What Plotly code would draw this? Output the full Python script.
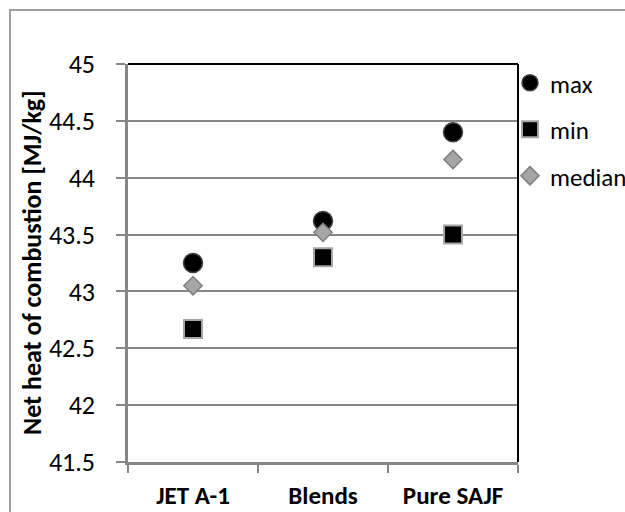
import plotly.graph_objects as go

# Net heat of combustion by fuel category
categories = ["JET A-1", "Blends", "Pure SAJF"]
max_vals = [43.25, 43.62, 44.40]
min_vals = [42.67, 43.30, 43.50]
median_vals = [43.05, 43.52, 44.16]

y_range = [41.5, 45]
y_ticks = [41.5, 42, 42.5, 43, 43.5, 44, 44.5, 45]
y_tick_text = ["41.5", "42", "42.5", "43", "43.5", "44", "44.5", "45"]

FONT = "Carlito, Calibri, Lato, sans-serif"
GRID = "#868686"

W, H = 625, 512
ML, MR, MT, MB = 128, 107, 64, 50
PW, PH = W - ML - MR, H - MT - MB

fig = go.Figure()

fig.add_trace(go.Scatter(
    x=categories, y=max_vals, name="max", mode="markers",
    legendgroup="a",
    marker=dict(symbol="circle", size=19, color="#000000",
                line=dict(color="#404040", width=1.5)),
))
fig.add_trace(go.Scatter(
    x=categories, y=min_vals, name="min", mode="markers",
    legendgroup="b",
    marker=dict(symbol="square", size=18, color="#000000",
                line=dict(color="#a6a6a6", width=2)),
))
fig.add_trace(go.Scatter(
    x=categories, y=median_vals, name="median", mode="markers",
    legendgroup="c",
    marker=dict(symbol="diamond", size=14, color="#a6a6a6",
                line=dict(color="#7f7f7f", width=1.5)),
))

fig.update_layout(
    template="none",
    width=W, height=H,
    margin=dict(l=ML, r=MR, t=MT, b=MB, pad=0, autoexpand=False),
    paper_bgcolor="white", plot_bgcolor="white",
    font=dict(family=FONT, size=26, color="#000000"),
    showlegend=True,
    legend=dict(
        xref="container", yref="container",
        x=510 / W, xanchor="left", y=1 - 60 / H, yanchor="top",
        traceorder="grouped", tracegroupgap=11,
        font=dict(family=FONT, size=25, color="#000000"),
        bgcolor="rgba(0,0,0,0)", borderwidth=0, itemwidth=30,
    ),
    xaxis=dict(
        type="category", range=[-0.5, 2.5], automargin=False,
        showline=True, linecolor=GRID, linewidth=2.5,
        ticks="outside", tickson="boundaries", ticklen=8,
        tickcolor=GRID, tickwidth=2,
        showgrid=False, zeroline=False,
        tickfont=dict(family=FONT, size=25, color="#000000", weight="bold"),
        ticklabelstandoff=9,
    ),
    yaxis=dict(
        range=y_range, tickvals=y_ticks, ticktext=y_tick_text, automargin=False,
        showline=True, linecolor=GRID, linewidth=2.5,
        ticks="outside", ticklen=9, tickcolor=GRID, tickwidth=2,
        showgrid=True, gridcolor=GRID, gridwidth=2,
        zeroline=False,
        tickfont=dict(family=FONT, size=26, color="#000000"),
        ticklabelstandoff=16,
    ),
)

# black plot-area border on the top and right sides
fig.add_shape(type="line", xref="paper", yref="paper", x0=0, x1=1, y0=1, y1=1,
              line=dict(color="#000000", width=2), layer="above")
fig.add_shape(type="line", xref="paper", yref="paper", x0=1, x1=1, y0=0, y1=1,
              line=dict(color="#000000", width=2), layer="above")

# chart-area frame
fig.add_shape(type="rect", xref="paper", yref="paper",
              x0=(10 - ML) / PW, x1=2.0, y0=-1.0, y1=1 + (MT - 10) / PH,
              line=dict(color="#a0a0a0", width=2), fillcolor="rgba(0,0,0,0)",
              layer="below")

# vertical axis title
fig.add_annotation(
    text="<b>Net heat of combustion [MJ/kg]</b>",
    xref="paper", yref="paper",
    x=(32 - ML) / PW, y=1 - ((88 + 438) / 2 - MT) / PH,
    xanchor="center", yanchor="middle", textangle=-90, showarrow=False,
    font=dict(family=FONT, size=26, color="#000000"),
)

fig.write_html("out.html")
